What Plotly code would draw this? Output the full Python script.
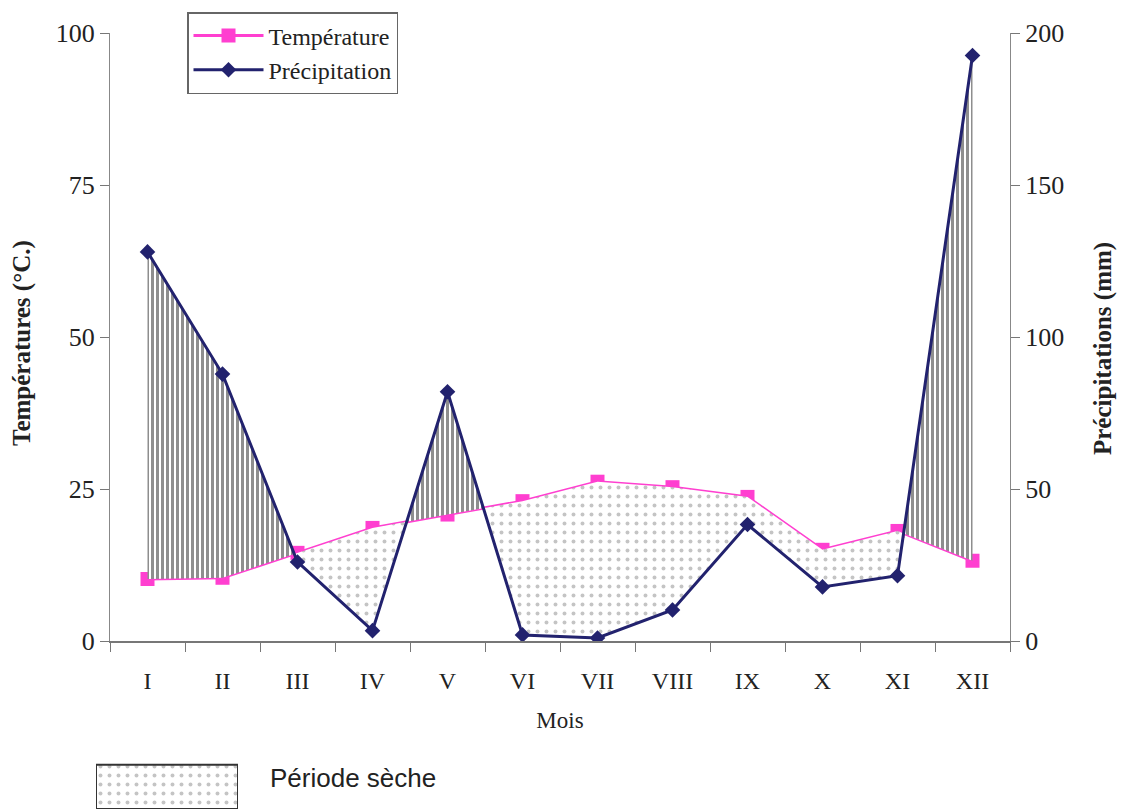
import numpy as np
import plotly.graph_objects as go

months = ["I", "II", "III", "IV", "V", "VI", "VII", "VIII", "IX", "X", "XI", "XII"]
temperature = [10.2, 10.4, 14.5, 18.6, 20.8, 23.0, 26.2, 25.3, 23.7, 15.0, 18.1, 13.2]
precipitation = [128.0, 87.8, 26.0, 3.4, 82.0, 2.0, 1.0, 10.2, 38.3, 17.8, 21.5, 192.6]

month_pos = list(range(1, len(months) + 1))
boundaries = [m - 0.5 for m in month_pos] + [len(months) + 0.5]

# Build x with crossing points so fills follow both curves exactly
T2 = [2 * t for t in temperature]  # temperature on precipitation scale (P = 2T)
xs, up_dry, lo_dry, up_hum, lo_hum = [], [], [], [], []
for i in range(len(months)):
    pts = [(month_pos[i], T2[i], precipitation[i])]
    if i < len(months) - 1:
        d0 = T2[i] - precipitation[i]
        d1 = T2[i + 1] - precipitation[i + 1]
        if d0 * d1 < 0:
            f = d0 / (d0 - d1)
            xc = month_pos[i] + f
            yc = T2[i] + f * (T2[i + 1] - T2[i])
            pts.append((xc, yc, yc))
    for x, t, p in pts:
        xs.append(x)
        up_dry.append(t)
        lo_dry.append(min(t, p))
        lo_hum.append(t)
        up_hum.append(max(t, p))

FONT_SERIF = "Liberation Serif, Times New Roman, serif"
FONT_SANS = "Liberation Sans, Arial, sans-serif"
NAVY = "#22226e"
PINK = "#ff3fd0"
DOTS = dict(shape=".", fgcolor="#8a8a8a", bgcolor="white", size=9, solidity=0.15)
HATCH = dict(shape="|", fgcolor="#1e1e1e", bgcolor="white", size=5, solidity=0.6)

fig = go.Figure()

# Dry period (P < 2T): dotted
fig.add_trace(go.Scatter(x=xs, y=lo_dry, yaxis="y2", mode="lines",
                         line=dict(width=0), showlegend=False, hoverinfo="skip"))
fig.add_trace(go.Scatter(x=xs, y=up_dry, yaxis="y2", mode="lines",
                         line=dict(width=0), fill="tonexty", fillcolor="rgba(0,0,0,0)",
                         fillpattern=DOTS, showlegend=False, hoverinfo="skip"))
# Humid period (P > 2T): vertical hatching
fig.add_trace(go.Scatter(x=xs, y=lo_hum, yaxis="y2", mode="lines",
                         line=dict(width=0), showlegend=False, hoverinfo="skip"))
fig.add_trace(go.Scatter(x=xs, y=up_hum, yaxis="y2", mode="lines",
                         line=dict(width=0), fill="tonexty", fillcolor="rgba(0,0,0,0)",
                         fillpattern=HATCH, showlegend=False, hoverinfo="skip"))

fig.add_trace(go.Scatter(x=month_pos, y=temperature, name="Température", mode="lines+markers",
                         legendgroup="t", legendrank=1,
                         line=dict(color=PINK, width=3),
                         marker=dict(symbol="square", size=14, color=PINK)))
fig.add_trace(go.Scatter(x=month_pos, y=precipitation, name="Précipitation", yaxis="y2",
                         legendgroup="p", legendrank=2,
                         mode="lines+markers",
                         line=dict(color=NAVY, width=3),
                         marker=dict(symbol="diamond", size=12, color=NAVY)))

# Legend swatch for "Période sèche" in its own small axes
fig.add_trace(go.Scatter(x=[0, 1, 1, 0, 0], y=[0, 0, 1, 1, 0], xaxis="x3", yaxis="y3",
                         mode="lines", line=dict(color="#333", width=2), fill="toself",
                         fillcolor="rgba(0,0,0,0)", fillpattern=DOTS,
                         showlegend=False, hoverinfo="skip"))

L, R, T, B = 0, 0, 0, 0
W, H = 1122, 809
pw, ph = W - L - R, H - T - B
def px_x(p):
    return (p - L) / pw
def px_y(p):
    return (H - B - p) / ph

fig.update_layout(
    width=W, height=H,
    margin=dict(l=L, r=R, t=T, b=B, autoexpand=False),
    paper_bgcolor="white", plot_bgcolor="white",
    font=dict(family=FONT_SERIF, size=24, color="#222"),
    showlegend=True,
    legend=dict(x=px_x(187), y=px_y(12), xanchor="left", yanchor="top",
                bordercolor="#666", borderwidth=1.5, bgcolor="white",
                font=dict(family=FONT_SERIF, size=24, color="#222"),
                traceorder="normal", tracegroupgap=16, itemwidth=70),
    xaxis=dict(domain=[px_x(110), px_x(1010)], range=[0.5, 12.5], automargin=False,
               tickvals=month_pos, ticktext=months, ticks="outside", ticklen=17,
               tickcolor="rgba(0,0,0,0)",
               minor=dict(tickvals=boundaries, ticks="outside", ticklen=9, tickcolor="#777"),
               showline=True, linecolor="#777", linewidth=1.5, showgrid=False, zeroline=False,
               title=dict(text="Mois", standoff=19, font=dict(size=23)),
               tickfont=dict(size=24), anchor="y"),
    yaxis=dict(domain=[px_y(641), px_y(33)], range=[0, 100], tickvals=[0, 25, 50, 75, 100],
               automargin=False,
               ticks="outside", ticklen=9, tickcolor="#777", showline=True, linecolor="#888",
               linewidth=1.2, showgrid=False, zeroline=False,
               tickfont=dict(size=26)),
    yaxis2=dict(range=[0, 200], overlaying="y", side="right", tickvals=[0, 50, 100, 150, 200],
                automargin=False,
                ticks="outside", ticklen=9, tickcolor="#777", showline=True, linecolor="#888",
                linewidth=1.2, showgrid=False, zeroline=False,
                tickfont=dict(size=26)),
    xaxis3=dict(domain=[px_x(96), px_x(238)], range=[0, 1], visible=False, anchor="y3",
                fixedrange=True),
    yaxis3=dict(domain=[0, px_y(762)], range=[0, 1.06], visible=False, anchor="x3",
                fixedrange=True),
)

# Axis titles placed at the reference positions
fig.add_annotation(text="<b>Températures (°C.)</b>", xref="paper", yref="paper",
                   x=px_x(22), y=px_y(343), textangle=-90, showarrow=False,
                   xanchor="center", yanchor="middle",
                   font=dict(family=FONT_SERIF, size=25, color="#222"))
fig.add_annotation(text="<b>Précipitations (mm)</b>", xref="paper", yref="paper",
                   x=px_x(1103), y=px_y(349), textangle=-90, showarrow=False,
                   xanchor="center", yanchor="middle",
                   font=dict(family=FONT_SERIF, size=25, color="#222"))

fig.add_annotation(text="Période sèche", xref="paper", yref="paper",
                   x=px_x(268), y=px_y(778), xanchor="left", yanchor="middle",
                   showarrow=False,
                   font=dict(family=FONT_SANS, size=26, color="#222"))

fig.write_html("out.html")
